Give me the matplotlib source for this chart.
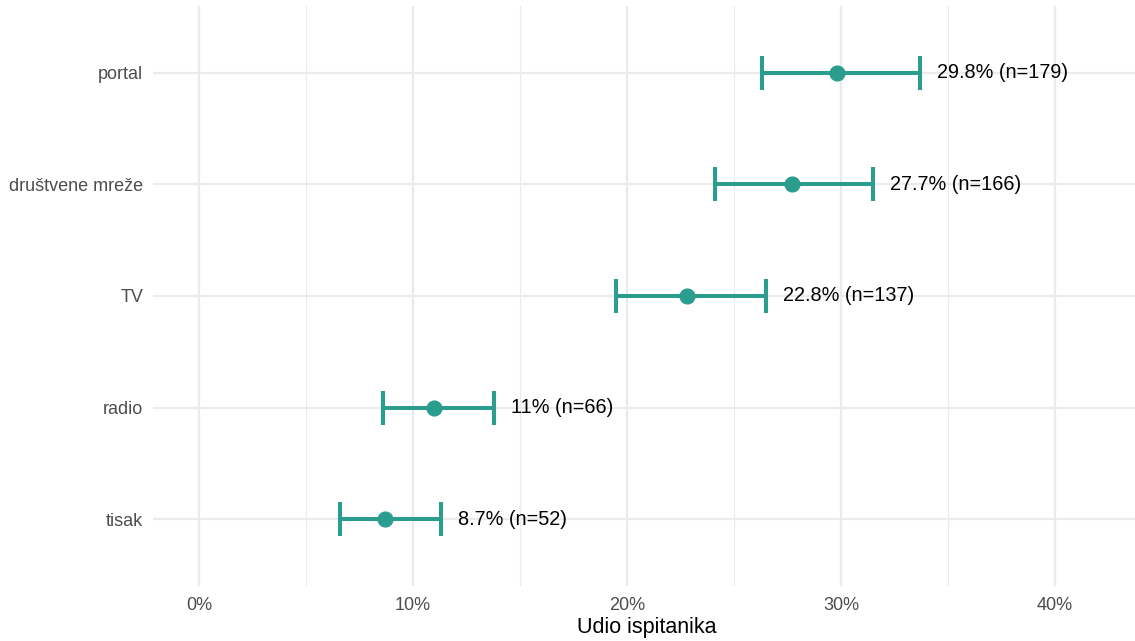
import matplotlib
matplotlib.use("Agg")
import matplotlib.pyplot as plt
from matplotlib.ticker import FixedLocator, FuncFormatter

plt.rcParams['font.family'] = ['Liberation Sans', 'DejaVu Sans']

# share of respondents per media source, with 95% interval
sources = ["tisak", "radio", "TV", "društvene mreže", "portal"]
share = [8.7, 11.0, 22.8, 27.7, 29.8]
lower = [6.6, 8.6, 19.5, 24.1, 26.3]
upper = [11.3, 13.8, 26.5, 31.5, 33.7]
counts = [52, 66, 137, 166, 179]
labels = ["8.7% (n=52)", "11% (n=66)", "22.8% (n=137)", "27.7% (n=166)", "29.8% (n=179)"]

teal = "#2A9D8F"

fig = plt.figure(figsize=(11.35, 6.41), dpi=100)
ax = fig.add_axes([153 / 1135, 55 / 641, 982 / 1135, 580 / 641])

ypos = list(range(1, len(sources) + 1))

# grid like theme_minimal
ax.xaxis.set_major_locator(FixedLocator([0, 10, 20, 30, 40]))
ax.xaxis.set_minor_locator(FixedLocator([5, 15, 25, 35]))
ax.grid(axis='x', which='major', color='#EBEBEB', lw=1.6, zorder=0)
ax.grid(axis='x', which='minor', color='#EBEBEB', lw=0.8, zorder=0)
ax.grid(axis='y', which='major', color='#EBEBEB', lw=1.6, zorder=0)

ax.errorbar(share, ypos, xerr=[[s - l for s, l in zip(share, lower)],
                               [u - s for s, u in zip(share, upper)]],
            fmt='none', ecolor=teal, elinewidth=2.9, capsize=11.9, capthick=2.9, zorder=3)
ax.plot(share, ypos, 'o', color=teal, ms=10.6, zorder=4)

for y, u, txt in zip(ypos, upper, labels):
    ax.text(u + 0.8, y, txt, va='center', ha='left', fontsize=14.3, color='black')

ax.set_xlim(-2.15, 43.74)
ax.set_ylim(0.4, 5.6)
ax.set_yticks(ypos)
ax.set_yticklabels(sources)
ax.xaxis.set_major_formatter(FuncFormatter(lambda v, p: f"{v:.0f}%"))
ax.tick_params(axis='both', which='both', length=0, labelsize=13, labelcolor='#4D4D4D')
ax.tick_params(axis='x', pad=8)
ax.tick_params(axis='y', pad=7)
for s in ax.spines.values():
    s.set_visible(False)

ax.set_xlabel("Udio ispitanika", fontsize=15.5, color='black', va='center')
ax.xaxis.set_label_coords(0.5 + 3 / 982, -42 / 580)

fig.savefig("out.png", dpi=100)
